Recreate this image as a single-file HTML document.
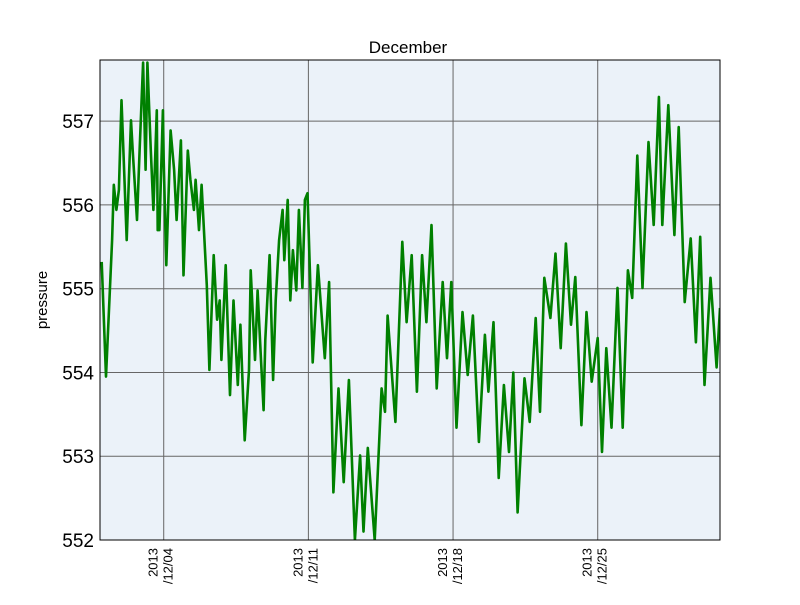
<!DOCTYPE html>
<html><head><meta charset="utf-8"><style>
body{margin:0;background:#fff;font-family:"Liberation Sans","DejaVu Sans",sans-serif}
</style></head><body>
<svg id="chart" width="800" height="600" xmlns="http://www.w3.org/2000/svg"></svg>
<script>
const hours=[0,5,12,14,17,20,23,26,29,34,36,41,44,48,51,53,57,60,64,65,67,71,72,75,80,84,87,92,95,100,103,107,109,113,116,122,125,130,134,137,139,144,149,153,158,161,166,171,173,178,181,185,188,190,195,199,202,206,210,212,216,219,222,226,229,233,236,239,245,251,259,264,269,275,281,287,294,300,304,309,317,325,329,332,341,349,354,360,366,372,377,383,389,396,401,406,412,419,425,431,438,445,449,455,461,467,473,478,483,491,497,504,509,514,521,527,533,539,545,550,557,563,569,576,581,586,592,599,605,611,616,622,628,635,641,647,651,658,665,670,677,684,690,695,700,707,714,718];
const pressure=[555.32,553.95,555.58,556.24,555.94,556.18,557.25,556.42,555.58,557.01,556.65,555.82,556.65,557.70,556.42,557.70,556.65,555.94,557.13,555.70,555.70,557.13,556.53,555.28,556.89,556.42,555.82,556.77,555.16,556.65,556.30,555.94,556.30,555.70,556.24,555.04,554.03,555.40,554.63,554.86,554.15,555.28,553.73,554.86,553.85,554.57,553.19,554.03,555.22,554.15,554.98,554.15,553.55,554.39,555.40,553.91,554.86,555.58,555.94,555.34,556.06,554.86,555.46,554.98,555.94,555.01,556.06,556.14,554.12,555.28,554.17,555.08,552.57,553.81,552.69,553.91,552.00,553.01,552.10,553.10,552.00,553.81,553.53,554.68,553.41,555.56,554.60,555.40,553.77,555.40,554.60,555.76,553.81,555.08,554.17,555.08,553.34,554.72,553.97,554.68,553.17,554.45,553.77,554.60,552.74,553.85,553.05,554.00,552.33,553.93,553.41,554.65,553.53,555.13,554.65,555.42,554.29,555.54,554.57,555.14,553.37,554.72,553.89,554.41,553.05,554.29,553.34,555.01,553.34,555.22,554.89,556.59,555.01,556.75,555.76,557.29,555.76,557.19,555.64,556.93,554.84,555.60,554.36,555.62,553.85,555.13,554.06,554.77];
const yTicks=[552,553,554,555,556,557];
const xTickHours=[72,240,408,576];
const xTickLabels=["/12/04","/12/11","/12/18","/12/25"];
const L=100,R=720,T=60,B=540,xMin=-2,xMax=718,yMin=552,yMax=557.73;
const NS="http://www.w3.org/2000/svg",svg=document.getElementById('chart');
const X=h=>L+(h-xMin)/(xMax-xMin)*(R-L);
const Y=v=>B-(v-yMin)/(yMax-yMin)*(B-T);
function mk(t,a,p){const e=document.createElementNS(NS,t);for(const k in a)e.setAttribute(k,a[k]);(p||svg).appendChild(e);return e;}
const bg=mk('rect',{x:L,y:T,width:R-L,height:B-T,fill:'#ebf2f9'});


const clip=mk('clipPath',{id:'c'});mk('rect',{x:L,y:T,width:R-L,height:B-T},clip);
yTicks.forEach(v=>{
 const g=mk('line',{x1:L,x2:R,y1:Y(v),y2:Y(v),stroke:'#666','stroke-width':1});
 
 
 const t=mk('text',{x:L-6,y:Y(v)+7,'text-anchor':'end','font-size':19,fill:'#000'});t.textContent=v;
 
 
});
xTickHours.forEach((h,i)=>{
 const g=mk('line',{x1:X(h),x2:X(h),y1:T,y2:B,stroke:'#666','stroke-width':1});
 
 
 const t=mk('text',{transform:`translate(${X(h)+4},${B+8}) rotate(-90)`,'text-anchor':'end','font-size':13,fill:'#000'});
 
 
 const a=mk('tspan',{x:0,dy:-10},t);a.textContent="2013";
 const b=mk('tspan',{x:0,dy:15},t);b.textContent=xTickLabels[i];
});
const d=hours.map((h,i)=>(i?'L':'M')+X(h).toFixed(1)+','+Y(pressure[i]).toFixed(1)).join('');
const p=mk('path',{d,fill:'none',stroke:'#008000','stroke-width':2.6,'stroke-linejoin':'round','clip-path':'url(#c)'});


const fr=mk('rect',{x:L,y:T,width:R-L,height:B-T,fill:'none',stroke:'#000','stroke-width':1});


const ti=mk('text',{x:408,y:53,'text-anchor':'middle','font-size':17});ti.textContent='December';


const yl=mk('text',{transform:'translate(47,300) rotate(-90)','text-anchor':'middle','font-size':15});yl.textContent='pressure';


</script>
</body></html>
